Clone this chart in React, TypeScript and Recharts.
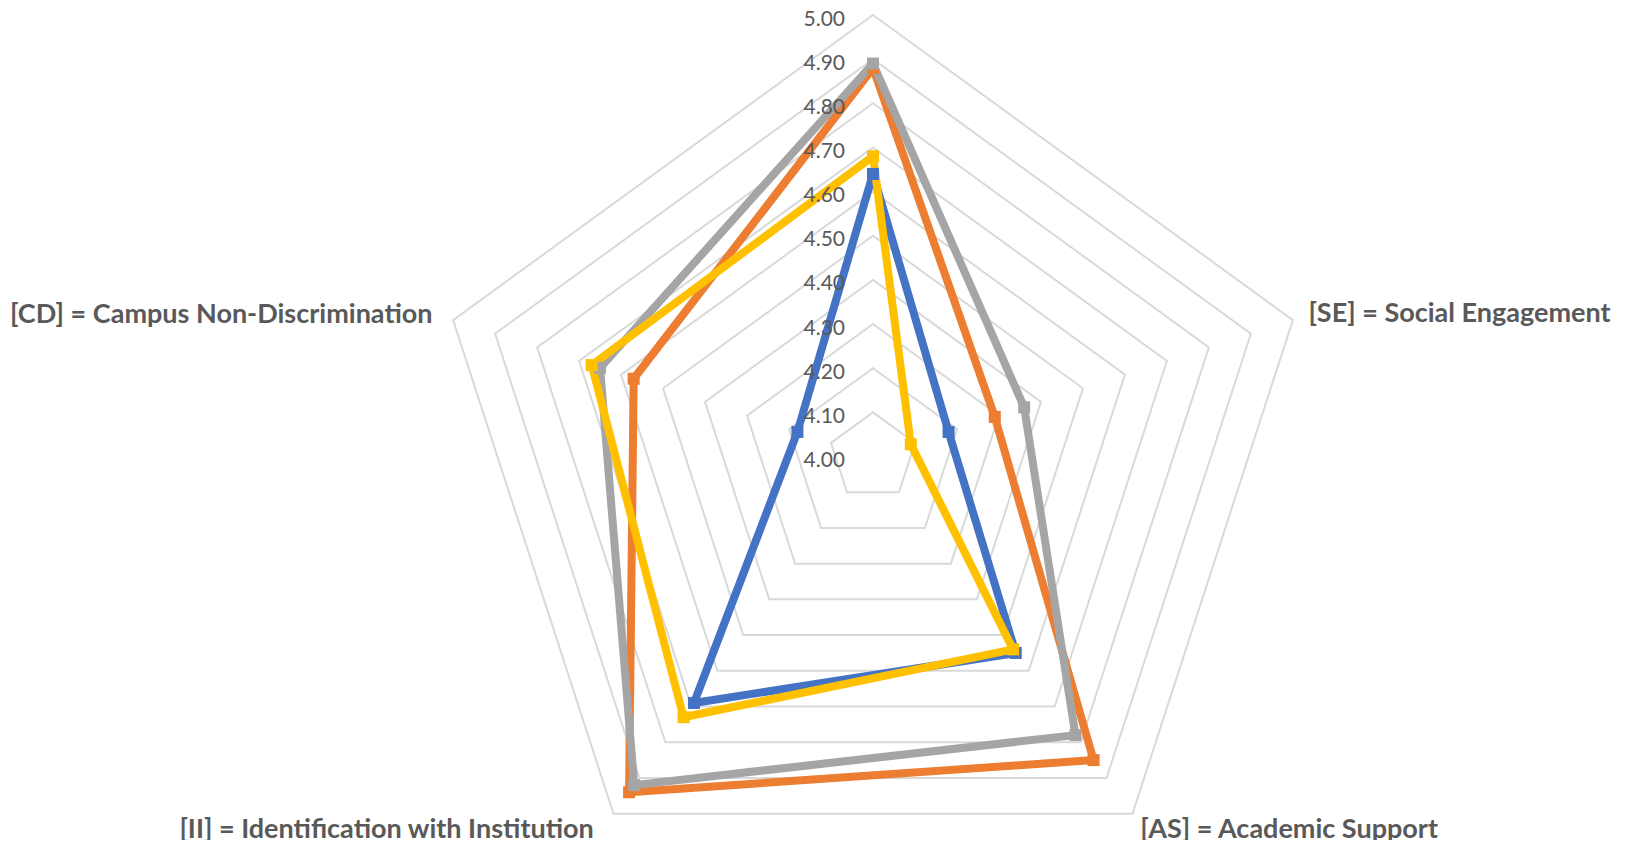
import { RadarChart, Radar, PolarGrid, PolarAngleAxis, PolarRadiusAxis } from "recharts";

// axis categories, clockwise from the top (top label not shown in the source)
const categories = [
  "",
  "[SE] = Social Engagement",
  "[AS] = Academic Support",
  "[II] = Identification with Institution",
  "[CD] = Campus Non-Discrimination",
];

const blueSeries = [4.64, 4.18, 4.55, 4.69, 4.18];
const orangeSeries = [4.88, 4.29, 4.85, 4.94, 4.57];
const graySeries = [4.89, 4.36, 4.78, 4.92, 4.65];
const yellowSeries = [4.68, 4.09, 4.54, 4.73, 4.67];

const radiusTicks = [4.0, 4.1, 4.2, 4.3, 4.4, 4.5, 4.6, 4.7, 4.8, 4.9, 5.0];

const data = categories.map((name, i) => ({
  name,
  blue: blueSeries[i],
  orange: orangeSeries[i],
  gray: graySeries[i],
  yellow: yellowSeries[i],
}));

const LABEL_FONT = "Lato, 'Open Sans', sans-serif";

const squareDot = (color: string) => (props: any) => (
  <rect
    key={`dot-${color}-${props.index}`}
    x={props.cx - 6}
    y={props.cy - 6}
    width={12}
    height={12}
    fill={color}
  />
);

// label offsets from the tick point, per axis
const labelPlacement = [
  { dx: 0, dy: 0, anchor: "middle" },
  { dx: 8, dy: -6, anchor: "start" },
  { dx: 3, dy: 7, anchor: "start" },
  { dx: -15, dy: 7, anchor: "end" },
  { dx: -13, dy: -5, anchor: "end" },
];

const AngleTick = (props: any) => {
  const { x, y, payload, index } = props;
  if (!payload.value) return null;
  const p = labelPlacement[index];
  return (
    <text
      x={x + p.dx}
      y={y + p.dy}
      textAnchor={p.anchor}
      dominantBaseline="central"
      fill="#595959"
      fontFamily={LABEL_FONT}
      fontWeight={700}
      fontSize={27}
    >
      {payload.value}
    </text>
  );
};

const RadiusTick = (props: any) => {
  const { x, y, payload } = props;
  return (
    <text
      x={x - 28}
      y={y + 2}
      textAnchor="end"
      dominantBaseline="central"
      fill="#595959"
      fontFamily={LABEL_FONT}
      fontSize={21}
    >
      {Number(payload.value).toFixed(2)}
    </text>
  );
};

export default function App() {
  return (
    <div style={{ margin: -8 }}>
      <RadarChart
        width={1627}
        height={848}
        data={data}
        cx={873}
        cy={456.5}
        outerRadius={441.5}
        startAngle={90}
        endAngle={-270}
      >
        <PolarGrid gridType="polygon" radialLines={false} stroke="#D9D9D9" strokeWidth={2} />
        <PolarAngleAxis dataKey="name" tick={<AngleTick />} tickLine={false} axisLine={false} />
        <PolarRadiusAxis
          angle={90}
          type="number"
          domain={[4, 5]}
          ticks={radiusTicks}
          tick={<RadiusTick />}
          axisLine={false}
          tickLine={false}
        />
        <Radar dataKey="blue" stroke="#4472C4" strokeWidth={8} strokeLinejoin="round" fill="none" fillOpacity={0} dot={squareDot("#4472C4")} isAnimationActive={false} />
        <Radar dataKey="orange" stroke="#ED7D31" strokeWidth={8} strokeLinejoin="round" fill="none" fillOpacity={0} dot={squareDot("#ED7D31")} isAnimationActive={false} />
        <Radar dataKey="gray" stroke="#A5A5A5" strokeWidth={8} strokeLinejoin="round" fill="none" fillOpacity={0} dot={squareDot("#A5A5A5")} isAnimationActive={false} />
        <Radar dataKey="yellow" stroke="#FFC000" strokeWidth={8} strokeLinejoin="round" fill="none" fillOpacity={0} dot={squareDot("#FFC000")} isAnimationActive={false} />
      </RadarChart>
    </div>
  );
}
